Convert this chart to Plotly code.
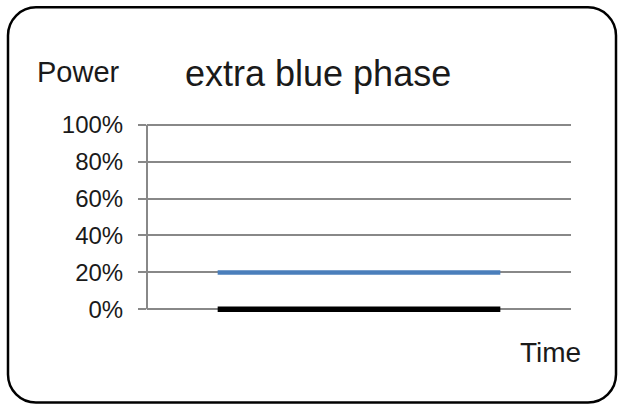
import plotly.graph_objects as go

# Time steps and power levels of the two channels
time_steps = [1, 2, 3, 4, 5]
blue_power = [0.20, 0.20, 0.20, 0.20, 0.20]
black_power = [0.0, 0.0, 0.0, 0.0, 0.0]
y_ticks = [0.0, 0.2, 0.4, 0.6, 0.8, 1.0]
y_tick_labels = ["0%", "20%", "40%", "60%", "80%", "100%"]

W, H = 624, 409
# pixel box of the 0%..100% value range
BOX_L, BOX_R, BOX_T, BOX_B = 147, 571, 125, 309
PAD = 0.02  # small value padding so the edge gridlines and thick lines are not clipped
span = BOX_B - BOX_T
ML = BOX_L
MR = W - BOX_R
MT = BOX_T - PAD * span
MB = H - BOX_B - PAD * span
PW, PH = W - ML - MR, H - MT - MB


def px(x):
    return (x - ML) / PW


def py(y):
    return (H - MB - y) / PH


fig = go.Figure()
fig.add_trace(go.Scatter(x=time_steps, y=blue_power, mode="lines",
                         line=dict(color="#4a7ebb", width=4.5), hoverinfo="skip"))
fig.add_trace(go.Scatter(x=time_steps, y=black_power, mode="lines",
                         line=dict(color="#000000", width=5.5), hoverinfo="skip"))

# vertical value axis line, from 0% to 100%
fig.add_shape(type="line", xref="paper", yref="y", x0=0, x1=0, y0=0, y1=1,
              line=dict(color="#888888", width=2), layer="below")

# rounded frame around the whole chart
x0, x1, y0, y1, r = 8, 616, 8, 402, 28
c = 0.5523 * r
path = (
    f"M {px(x0 + r)},{py(y0)} L {px(x1 - r)},{py(y0)} "
    f"C {px(x1 - r + c)},{py(y0)} {px(x1)},{py(y0 + r - c)} {px(x1)},{py(y0 + r)} "
    f"L {px(x1)},{py(y1 - r)} "
    f"C {px(x1)},{py(y1 - r + c)} {px(x1 - r + c)},{py(y1)} {px(x1 - r)},{py(y1)} "
    f"L {px(x0 + r)},{py(y1)} "
    f"C {px(x0 + r - c)},{py(y1)} {px(x0)},{py(y1 - r + c)} {px(x0)},{py(y1 - r)} "
    f"L {px(x0)},{py(y0 + r)} "
    f"C {px(x0)},{py(y0 + r - c)} {px(x0 + r - c)},{py(y0)} {px(x0 + r)},{py(y0)} Z"
)
fig.add_shape(type="path", path=path, xref="paper", yref="paper",
              line=dict(color="#000000", width=2.5), layer="above")

font = "Liberation Sans, Arial, sans-serif"
fig.add_annotation(text="extra blue phase", x=px(318), y=py(87), xref="paper", yref="paper",
                   xanchor="center", yanchor="bottom", showarrow=False,
                   font=dict(family=font, size=36, color="#1a1a1a"), yshift=-9)
fig.add_annotation(text="Power", x=px(35), y=py(83), xref="paper", yref="paper",
                   xanchor="left", yanchor="bottom", showarrow=False,
                   font=dict(family=font, size=29, color="#1a1a1a"), yshift=-7)
fig.add_annotation(text="Time", x=px(518), y=py(363), xref="paper", yref="paper",
                   xanchor="left", yanchor="bottom", showarrow=False,
                   font=dict(family=font, size=28, color="#1a1a1a"), yshift=-7)

fig.update_layout(
    width=W, height=H,
    margin=dict(l=ML, r=MR, t=MT, b=MB),
    paper_bgcolor="white", plot_bgcolor="white",
    showlegend=False,
    xaxis=dict(range=[0, 6], showgrid=False, zeroline=False, showticklabels=False,
               showline=False, ticks=""),
    yaxis=dict(range=[-PAD, 1 + PAD], tickvals=y_ticks, ticktext=y_tick_labels,
               showgrid=True, gridcolor="#888888", gridwidth=1.5,
               zeroline=False, showline=False,
               ticks="outside", ticklen=8, tickcolor="#888888", tickwidth=1.5,
               ticklabelstandoff=10,
               tickfont=dict(family=font, size=24, color="#1a1a1a")),
)

fig.write_html("out.html")
